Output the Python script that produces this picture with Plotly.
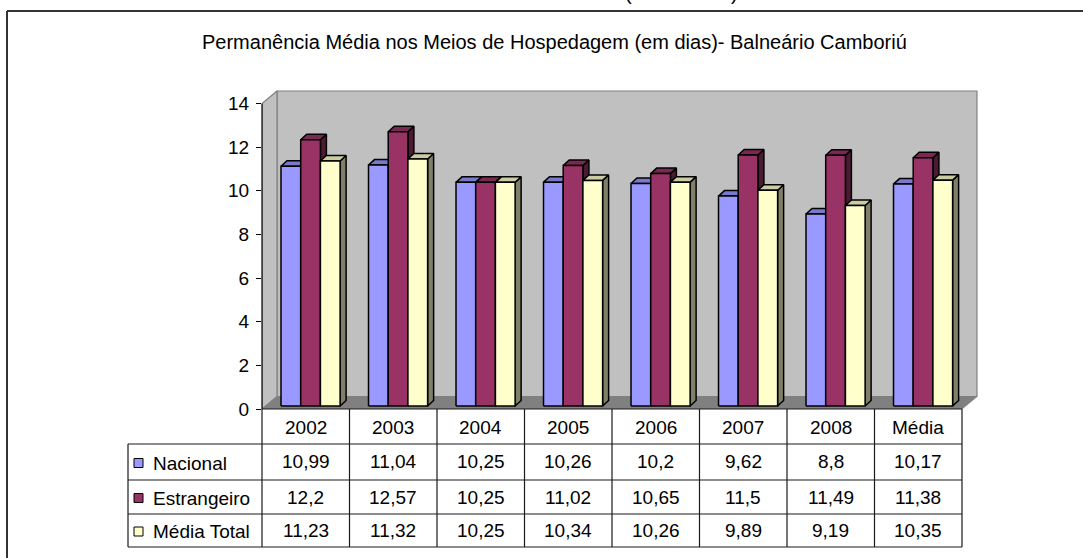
import plotly.graph_objects as go

# ---- data ----
categorias = ["2002", "2003", "2004", "2005", "2006", "2007", "2008", "Média"]
nacional = [10.99, 11.04, 10.25, 10.26, 10.2, 9.62, 8.8, 10.17]
estrangeiro = [12.2, 12.57, 10.25, 11.02, 10.65, 11.5, 11.49, 11.38]
media_total = [11.23, 11.32, 10.25, 10.34, 10.26, 9.89, 9.19, 10.35]
series_nomes = ["Nacional", "Estrangeiro", "Média Total"]
y_ticks = [0, 2, 4, 6, 8, 10, 12, 14]
titulo = "Permanência Média nos Meios de Hospedagem (em dias)- Balneário Camboriú"

series_valores = [nacional, estrangeiro, media_total]
cor_frente = ["#9999FF", "#993366", "#FFFFCC"]
cor_topo = ["#7A7ACC", "#7A2952", "#CCCCA3"]
cor_lado = ["#4D4D80", "#4D1A33", "#80806A"]

# ---- geometry (pixels) ----
W, H = 1083, 558
PL, PR, PT, PB = 262, 980, 88, 409
PX_CAT = 87.5          # pixels per category
PX_UNIT = 21.82        # pixels per y unit
Y_MAX = 14
N = len(categorias)

# depth of the 3-D box, in data units
DX = 15 / PX_CAT
DY = 12.5 / PX_UNIT
# bars: width, offset into the box, own depth
BAR_W = 19.7 / PX_CAT
BAR_SHIFT = 3.5 / PX_CAT + 0.015
BAR_BASE = 3 / PX_UNIT
BDX = 6 / PX_CAT
BDY = 5.5 / PX_UNIT

FONT = "Liberation Sans, Arial, sans-serif"


def pxx(px):
    return (px - PL) / (PR - PL)


def pxy(py):
    return (PB - py) / (PB - PT)


def decimal_br(v):
    return str(v).replace(".", ",")


fig = go.Figure()


def poly(xs, ys, fill, line="#000000", lw=1.5):
    fig.add_trace(go.Scatter(
        x=xs + [xs[0]], y=ys + [ys[0]], mode="lines", fill="toself",
        fillcolor=fill, line=dict(color=line, width=lw),
        hoverinfo="skip", showlegend=False))


# walls and floor
x0, x1 = -0.5, N - 0.5
poly([x0 + DX, x1 + DX, x1 + DX, x0 + DX], [DY, DY, Y_MAX + DY, Y_MAX + DY], "#C0C0C0", "#808080", 1.2)
poly([x0, x0 + DX, x0 + DX, x0], [0, DY, Y_MAX + DY, Y_MAX], "#C0C0C0", "#808080", 1.2)
poly([x0, x1, x1 + DX, x0 + DX], [0, 0, DY, DY], "#808080", "#808080", 1)

# 3-D bars, drawn left to right
for i in range(N):
    for s, vals in enumerate(series_valores):
        v = vals[i]
        xl = i + BAR_SHIFT + (s - 1.5) * BAR_W
        xr = xl + BAR_W
        y0 = BAR_BASE
        y1 = BAR_BASE + v
        poly([xr, xr + BDX, xr + BDX, xr], [y0, y0 + BDY, y1 + BDY, y1], cor_lado[s])
        poly([xl, xr, xr + BDX, xl + BDX], [y1, y1, y1 + BDY, y1 + BDY], cor_topo[s])
        poly([xl, xr, xr, xl], [y0, y0, y1, y1], cor_frente[s])

shapes = []
LC = "#1a1a1a"


def hline(py, pa, pb, color=LC, w=1.2):
    shapes.append(dict(type="line", xref="paper", yref="paper",
                       x0=pxx(pa), x1=pxx(pb), y0=pxy(py), y1=pxy(py),
                       line=dict(color=color, width=w)))


def vline(px, pa, pb, color=LC, w=1.2):
    shapes.append(dict(type="line", xref="paper", yref="paper",
                       x0=pxx(px), x1=pxx(px), y0=pxy(pa), y1=pxy(pb),
                       line=dict(color=color, width=w)))


# value axis line
shapes.append(dict(type="line", xref="paper", yref="y", x0=0, x1=0, y0=0, y1=Y_MAX,
                   line=dict(color="#000000", width=1.2)))

# data table
TAB_L = 128
TAB_R = PL + PX_CAT * N
ROWS = [409, 444, 480, 514, 547]
hline(ROWS[0], PL, TAB_R)
for py in ROWS[1:]:
    hline(py, TAB_L, TAB_R)
for k in range(N + 1):
    vline(PL + PX_CAT * k, ROWS[0], ROWS[-1])
vline(TAB_L, ROWS[1], ROWS[-1])

# outer frame
hline(11, 7, 1083, "#333333", 2)
vline(7, 11, 558, "#333333", 2)


def label(x, xref, py, text, size=19, xanchor="center"):
    return dict(x=x, xref=xref, y=pxy(py), yref="paper", text=text, showarrow=False,
                xanchor=xanchor, yanchor="middle",
                font=dict(family=FONT, size=size, color="#000"))


annotations = []
for i, c in enumerate(categorias):
    annotations.append(label(i, "x", (ROWS[0] + ROWS[1]) / 2 + 1, c))
for s, nome in enumerate(series_nomes):
    cy = (ROWS[s + 1] + ROWS[s + 2]) / 2
    for i in range(N):
        annotations.append(label(i, "x", cy, decimal_br(series_valores[s][i])))
    annotations.append(label(pxx(151), "paper", cy + 1, nome, xanchor="left"))
    shapes.append(dict(type="rect", xref="paper", yref="paper",
                       x0=pxx(134), x1=pxx(143), y0=pxy(cy + 5.5), y1=pxy(cy - 3.5),
                       fillcolor=cor_frente[s], line=dict(color="#000", width=1)))

annotations.append(label(pxx(554), "paper", 42, titulo, size=20))
# clipped heading above the frame
for px, ch in [(628, "("), (734, ")")]:
    annotations.append(label(pxx(px), "paper", -7, ch, size=20))

fig.update_layout(
    width=W, height=H,
    margin=dict(l=PL, r=W - PR, t=PT, b=H - PB, pad=0),
    paper_bgcolor="white", plot_bgcolor="white",
    xaxis=dict(range=[-0.5, -0.5 + (PR - PL) / PX_CAT], visible=False, fixedrange=True),
    yaxis=dict(range=[0, (PB - PT) / PX_UNIT], tickvals=y_ticks, ticks="outside", ticklen=5,
               tickcolor="#000", showgrid=False, zeroline=False, showline=False,
               tickfont=dict(family=FONT, size=19, color="#000"), ticklabelstandoff=3,
               fixedrange=True),
    shapes=shapes, annotations=annotations, showlegend=False,
)

fig.write_html("out.html")
